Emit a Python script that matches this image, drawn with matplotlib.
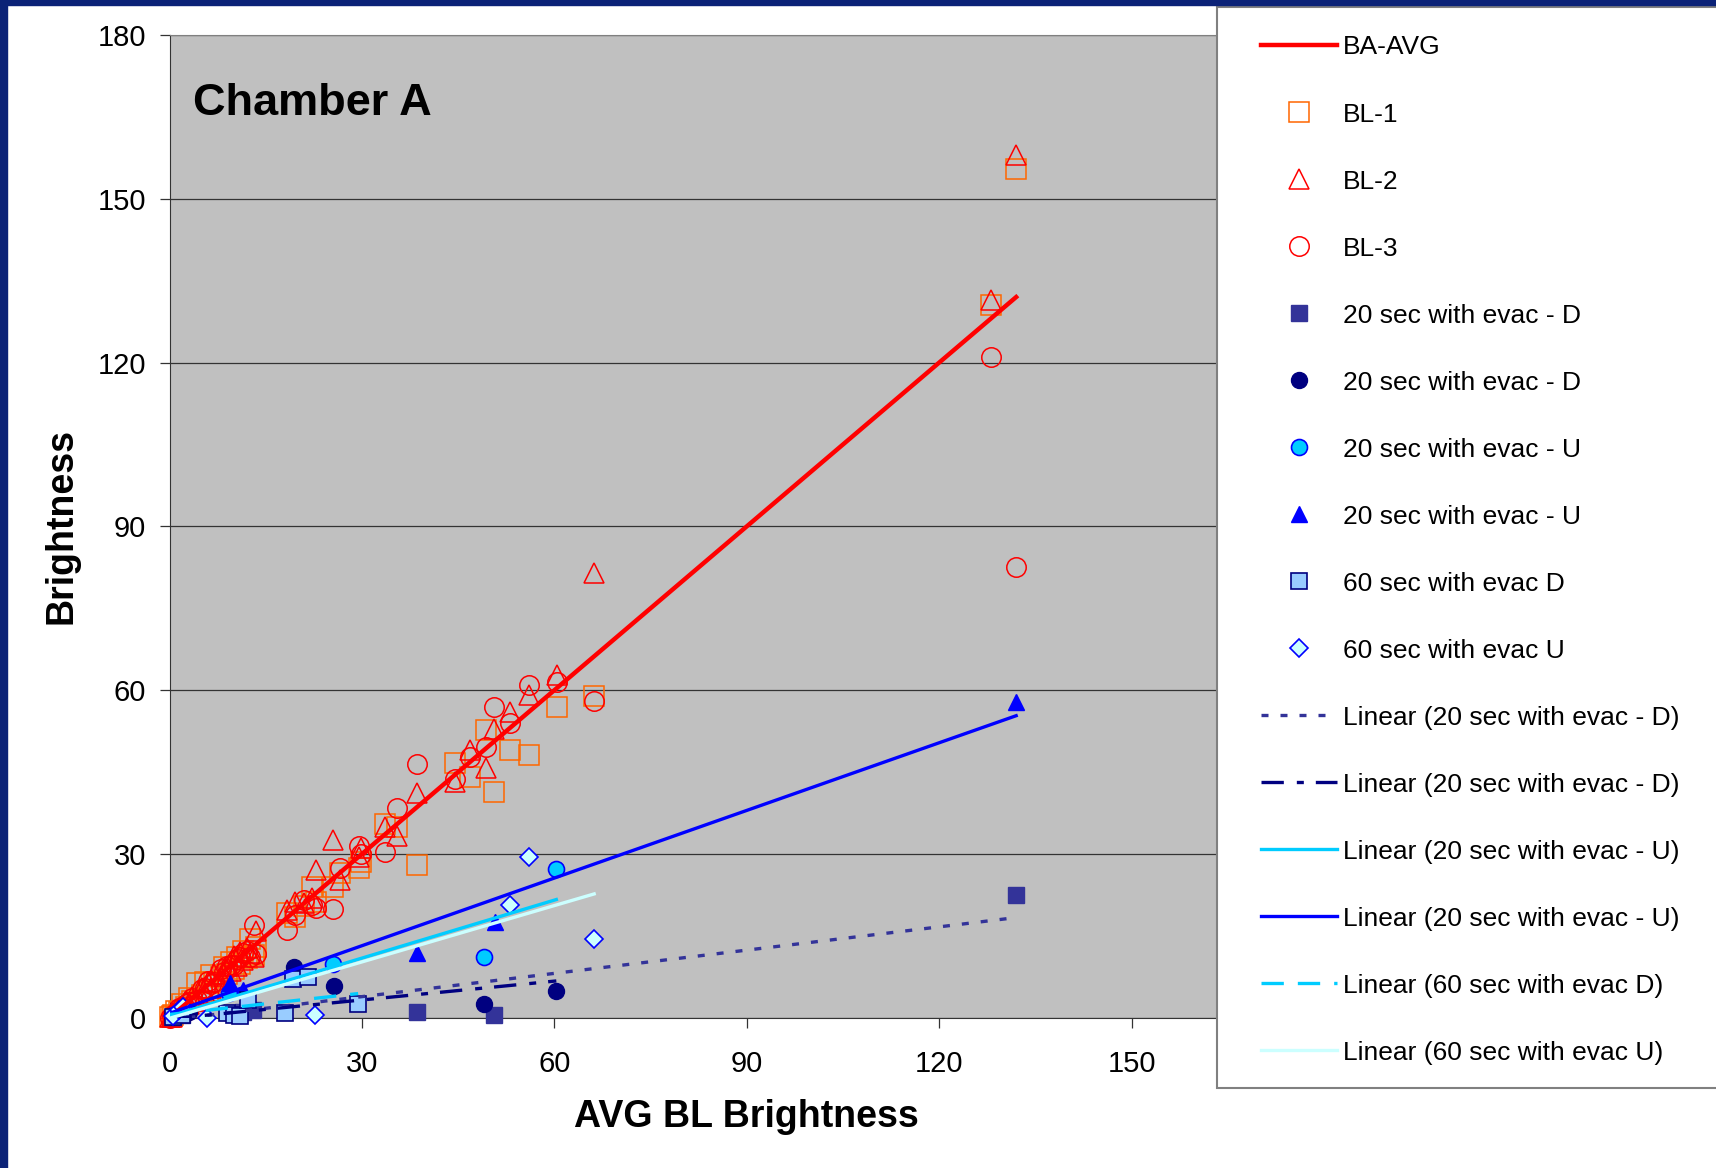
import numpy as np
import matplotlib
matplotlib.use("Agg")
import matplotlib.pyplot as plt
from matplotlib.patches import Rectangle

plt.rcParams['font.family'] = ['Liberation Sans', 'DejaVu Sans']

# average baseline brightness (shared x for BL-1/2/3 and BA-AVG)
avg_bl = [0.1, 0.3, 0.6, 1.0, 1.5, 2.0, 2.5, 3.0, 3.5, 4.2, 5.0, 5.5, 6.0, 6.5, 7.0,
          8.0, 8.5, 9.0, 9.5, 10.0, 10.5, 11.0, 11.5, 12.0, 12.5, 13.2, 13.5, 18.3,
          19.5, 21.0, 22.2, 22.8, 25.5, 26.5, 29.5, 29.8, 33.6, 35.5, 38.6, 44.5,
          46.9, 49.3, 50.6, 53.1, 56.1, 60.4, 66.2, 128.0, 132.0]
bl1 = [0.1, 0.4, 0.5, 1.3, 1.0, 2.6, 2.0, 3.6, 3.0, 6.3, 4.2, 6.5, 4.8, 7.8, 6.5,
       7.5, 9.2, 8.0, 10.2, 9.0, 11.2, 9.8, 12.2, 11.0, 14.5, 11.5, 13.0, 19.2,
       18.5, 20.5, 24.0, 21.2, 24.0, 26.5, 27.5, 28.5, 35.5, 35.0, 28.0, 46.7,
       44.1, 52.7, 41.4, 49.0, 48.1, 57.0, 59.0, 130.5, 155.5]
bl2 = [0.2, 0.2, 0.8, 0.8, 1.8, 1.5, 3.0, 2.5, 3.8, 3.0, 5.5, 4.5, 6.5, 5.5, 8.0,
       7.6, 8.0, 9.5, 8.6, 11.3, 9.5, 12.0, 10.5, 12.8, 11.8, 11.1, 15.8, 19.7,
       21.2, 21.0, 22.0, 27.1, 32.5, 25.2, 29.5, 31.0, 35.0, 33.2, 41.1, 43.2,
       49.0, 45.7, 52.8, 56.0, 59.1, 62.8, 81.5, 131.5, 158.0]
bl3 = [0.0, 0.3, 0.5, 0.9, 1.7, 1.9, 2.5, 2.9, 3.7, 3.3, 5.3, 5.5, 6.7, 6.2, 6.5,
       8.9, 8.3, 9.5, 9.7, 9.7, 10.8, 11.2, 11.8, 12.2, 11.2, 17.0, 11.7, 16.0,
       18.8, 21.5, 20.6, 20.1, 19.9, 27.5, 31.5, 30.0, 30.4, 38.5, 46.5, 43.7,
       47.7, 49.6, 57.0, 54.0, 60.9, 61.4, 58.0, 121.0, 82.5]

# 20 sec with evac - D (squares)
d20_sq_x = [0.5, 2.0, 10.0, 11.5, 13.0, 38.6, 50.6, 132.0]
d20_sq_y = [0.2, 0.5, 0.8, 1.0, 1.5, 1.1, 0.5, 22.4]
# 20 sec with evac - D (circles)
d20_ci_x = [0.5, 3.0, 19.4, 25.6, 49.1, 60.3]
d20_ci_y = [0.3, 1.0, 9.3, 5.8, 2.6, 4.9]
# 20 sec with evac - U (circles)
u20_ci_x = [0.5, 9.2, 25.5, 49.1, 60.3]
u20_ci_y = [0.5, 4.5, 9.8, 11.1, 27.2]
# 20 sec with evac - U (triangles)
u20_tr_x = [0.5, 9.4, 11.5, 38.6, 50.7, 132.0]
u20_tr_y = [0.5, 6.3, 5.0, 11.8, 17.6, 57.9]
# 60 sec with evac D
d60_x = [0.5, 2.0, 9.0, 10.0, 11.0, 12.3, 18.0, 19.3, 21.6, 29.4]
d60_y = [0.2, 0.5, 0.8, 0.5, 0.3, 3.2, 0.8, 7.0, 7.5, 2.5]
# 60 sec with evac U
u60_x = [0.5, 1.5, 2.1, 5.8, 22.7, 53.1, 56.1, 66.2]
u60_y = [0.3, 1.5, 2.0, 0.0, 0.5, 20.6, 29.4, 14.5]

# linear trendlines: x end, slope, intercept
trend_labels = ["Linear (20 sec with evac - D)", "Linear (20 sec with evac - D)",
                "Linear (20 sec with evac - U)", "Linear (20 sec with evac - U)",
                "Linear (60 sec with evac D)", "Linear (60 sec with evac U)"]
trend_xmax = [132.0, 60.3, 60.3, 132.0, 29.4, 66.2]
trend_slope = [0.142, 0.115, 0.354, 0.413, 0.13, 0.344]
trend_icpt = [-0.4, -0.2, 0.3, 0.8, 0.6, -0.1]

W, H = 1716, 1168
fig = plt.figure(figsize=(W / 100, H / 100), dpi=100)
ax = fig.add_axes([169.6 / W, 1 - 1017.7 / H, (1324 - 169.6) / W, (1017.7 - 35) / H])
ax.set_facecolor("#C0C0C0")

# scatter series (markers may spill over the axis edge, like the original)
ax.plot(avg_bl, bl1, ls="none", marker="s", ms=14, mfc="none", mec="#FF6600", mew=1.1, zorder=3, clip_on=False, label="BL-1")
ax.plot(avg_bl, bl2, ls="none", marker="^", ms=14, mfc="none", mec="#FF0000", mew=1.1, zorder=3, clip_on=False, label="BL-2")
ax.plot(avg_bl, bl3, ls="none", marker="o", ms=14, mfc="none", mec="#FF0000", mew=1.1, zorder=3, clip_on=False, label="BL-3")
ax.plot(avg_bl, avg_bl, color="#FF0000", lw=3.2, zorder=4, label="BA-AVG")
ax.plot(d20_sq_x, d20_sq_y, ls="none", marker="s", ms=11, color="#333399", zorder=3, clip_on=False, label="20 sec with evac - D")
ax.plot(d20_ci_x, d20_ci_y, ls="none", marker="o", ms=11.5, color="#000080", zorder=3, clip_on=False, label="20 sec with evac - D")
ax.plot(u20_ci_x, u20_ci_y, ls="none", marker="o", ms=11.5, mfc="#00CCFF", mec="#0000FF", mew=1.2, zorder=3, clip_on=False, label="20 sec with evac - U")
ax.plot(u20_tr_x, u20_tr_y, ls="none", marker="^", ms=11.5, color="#0000FF", zorder=3, clip_on=False, label="20 sec with evac - U")
ax.plot(d60_x, d60_y, ls="none", marker="s", ms=11, mfc="#99CCFF", mec="#000080", mew=1.2, zorder=3, clip_on=False, label="60 sec with evac D")
ax.plot(u60_x, u60_y, ls="none", marker="D", ms=9, mfc="#CCFFFF", mec="#0000FF", mew=1.2, zorder=3, clip_on=False, label="60 sec with evac U")

# trendlines
trend_colors = ["#333399", "#000080", "#00CCFF", "#0000FF", "#00CCFF", "#CCFFFF"]
trend_styles = [(0, (2.1, 3.6)), (0, (6.7, 3.9, 2.1, 3.6)), "-", "-", (0, (6.7, 4.2)), "-"]
for xm, m, b, c, s, lab in zip(trend_xmax, trend_slope, trend_icpt, trend_colors, trend_styles, trend_labels):
    xs = np.array([0.0, xm])
    ax.plot(xs, m * xs + b, color=c, ls=s, lw=2.4, zorder=4, label=lab)

ax.set_xlim(0, 180)
ax.set_ylim(0, 180)
ax.set_xticks(np.arange(0, 181, 30))
ax.set_yticks(np.arange(0, 181, 30))
ax.yaxis.grid(True, color="#333333", lw=0.9)
ax.set_axisbelow(True)
ax.tick_params(axis="both", direction="out", length=7, width=0.9, color="#333333", labelsize=21)
ax.tick_params(axis="x", pad=16)
ax.tick_params(axis="y", pad=10)
for sp in ["left", "bottom"]:
    ax.spines[sp].set_color("#333333")
ax.spines["top"].set_color("#808080")
ax.spines["right"].set_visible(False)

ax.set_xlabel("AVG BL Brightness", fontsize=27, fontweight="bold", va="center")
ax.set_ylabel("Brightness", fontsize=27, fontweight="bold", va="center")
ax.xaxis.set_label_coords(0.5, -0.101)
ax.yaxis.set_label_coords(-0.094, 0.5)
ax.text(0.02, 0.93, "Chamber A", transform=ax.transAxes, fontsize=32.5, fontweight="bold", va="center", ha="left")

# navy frame strips of the slide
navy = "#0B2277"
fig.add_artist(Rectangle((0, 0), 7 / W, 1, transform=fig.transFigure, color=navy, zorder=10))
fig.add_artist(Rectangle((0, 1 - 5 / H), 1, 5 / H, transform=fig.transFigure, color=navy, zorder=10))

# legend box
fig.add_artist(Rectangle((1217 / W, 1 - 1088 / H), 0.4, (1088 - 7) / H, transform=fig.transFigure,
                         facecolor="white", edgecolor="#808080", lw=1.5, zorder=3))
handles, labels = ax.get_legend_handles_labels()
order = [3, 0, 1, 2, 4, 5, 6, 7, 8, 9, 10, 11, 12, 13, 14, 15]
leg = fig.legend([handles[i] for i in order], [labels[i] for i in order],
                 loc="upper left", bbox_to_anchor=(1261 / W, 1 - 35.5 / H),
                 frameon=False, borderpad=0, borderaxespad=0, fontsize=19,
                 handlelength=2.88, handletextpad=0.23, labelspacing=1.63, numpoints=1)
leg.set_zorder(5)

fig.savefig("out.png", dpi=100)
